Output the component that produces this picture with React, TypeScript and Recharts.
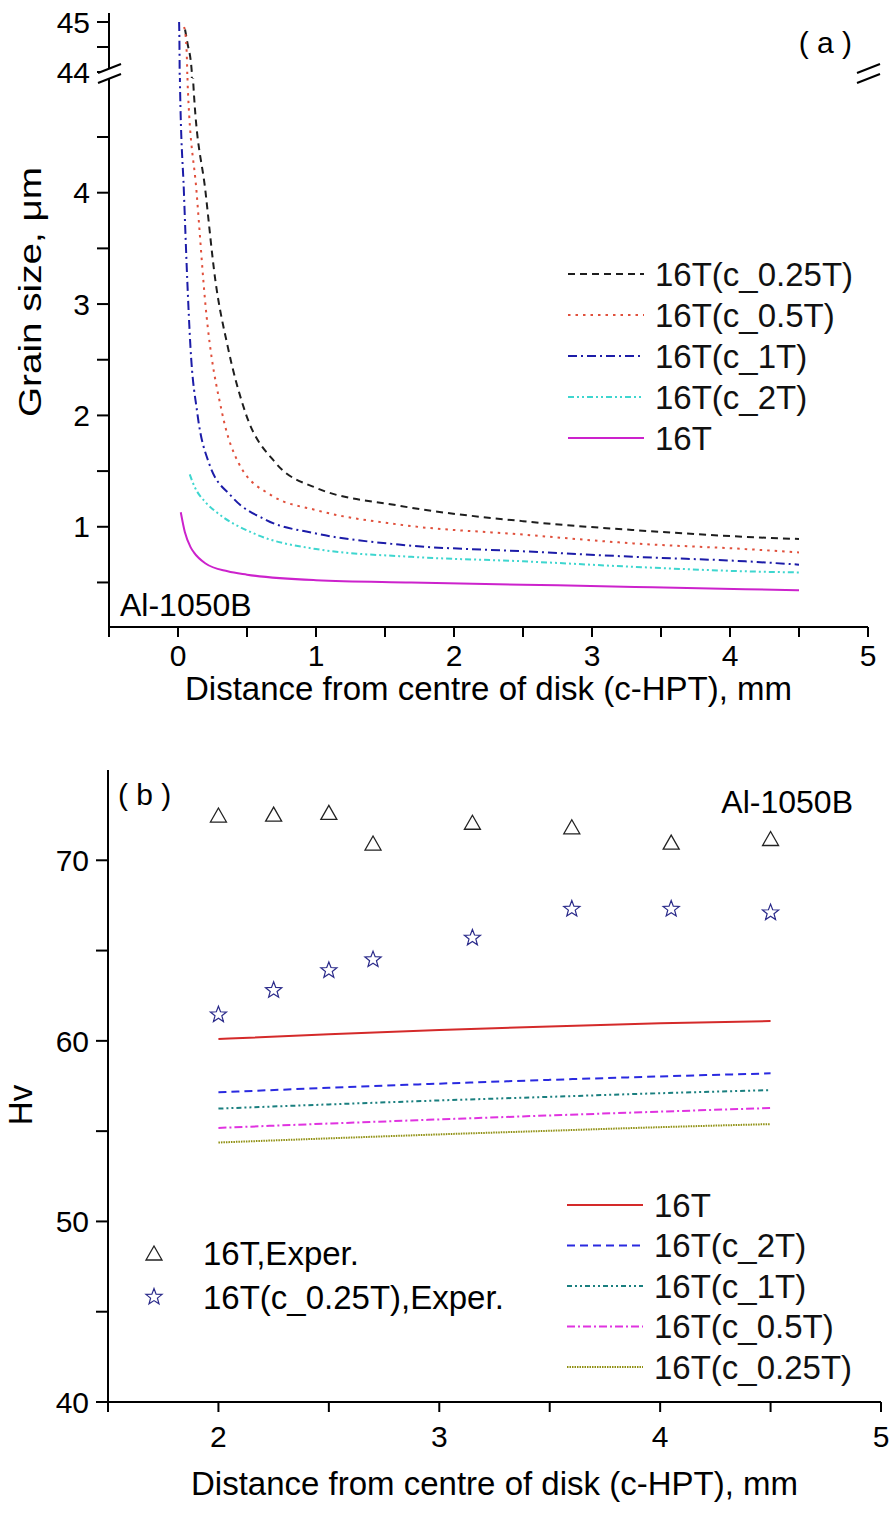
import { LineChart, Line, XAxis, YAxis, ComposedChart, Scatter } from 'recharts'

const FONT = '"Liberation Sans", Arial, sans-serif'

// ---- panel (a): grain size vs distance (mm, µm) ----
const xC025 = [0.051, 0.067, 0.1, 0.11, 0.2, 0.27, 0.36, 0.49, 0.71, 1.0, 1.6, 2.5, 3.31, 4.11, 4.5]
const gC025 = [44.85, 44.6, 44.0, 5.0, 4.0, 3.22, 2.62, 2.02, 1.57, 1.35, 1.19, 1.05, 0.97, 0.91, 0.89]
const xC05 = [0.044, 0.056, 0.067, 0.069, 0.135, 0.2, 0.32, 0.44, 0.68, 1.0, 1.6, 2.5, 3.31, 4.11, 4.5]
const gC05 = [44.9, 44.7, 44.0, 5.0, 4.0, 2.98, 2.02, 1.57, 1.28, 1.15, 1.02, 0.93, 0.85, 0.8, 0.77]
const xC1 = [0.008, 0.012, 0.014, 0.043, 0.067, 0.09, 0.14, 0.225, 0.39, 0.64, 1.0, 1.6, 2.5, 3.31, 4.11, 4.5]
const gC1 = [45.0, 44.0, 5.0, 4.0, 3.22, 2.62, 2.02, 1.57, 1.27, 1.06, 0.94, 0.84, 0.78, 0.73, 0.69, 0.66]
const xC2 = [0.085, 0.12, 0.2, 0.28, 0.55, 1.0, 1.69, 2.5, 3.31, 4.11, 4.5]
const gC2 = [1.47, 1.36, 1.22, 1.13, 0.94, 0.8, 0.73, 0.69, 0.64, 0.6, 0.59]
const x16 = [0.02, 0.05, 0.09, 0.115, 0.2, 0.36, 0.5, 1.0, 1.69, 2.5, 3.31, 4.11, 4.5]
const g16 = [1.13, 0.95, 0.82, 0.77, 0.67, 0.6, 0.57, 0.52, 0.5, 0.48, 0.46, 0.44, 0.43]

const xTicksA = [-0.5, 0, 0.5, 1, 1.5, 2, 2.5, 3, 3.5, 4, 4.5, 5]
const yTicksLow = [0.5, 1, 1.5, 2, 2.5, 3, 3.5, 4, 4.5]
const yTicksHigh = [44, 44.5, 45]

// ---- panel (b): Hv vs distance ----
const xModel = [2, 2.5, 3, 3.5, 4, 4.5]
const hv16 = [60.1, 60.37, 60.6, 60.8, 60.97, 61.1]
const hvC2 = [57.15, 57.4, 57.63, 57.84, 58.03, 58.2]
const hvC1 = [56.25, 56.48, 56.7, 56.9, 57.1, 57.27]
const hvC05 = [55.18, 55.42, 55.65, 55.87, 56.08, 56.28]
const hvC025 = [54.37, 54.6, 54.82, 55.02, 55.22, 55.39]

const xExp = [2, 2.25, 2.5, 2.7, 3.15, 3.6, 4.05, 4.5]
const hvExp16 = [72.45, 72.5, 72.6, 70.9, 72.05, 71.8, 70.95, 71.15]
const hvExpC025 = [61.45, 62.8, 63.9, 64.5, 65.7, 67.3, 67.3, 67.1]

const xTicksB = [1.5, 2, 2.5, 3, 3.5, 4, 4.5, 5]
const yTicksB = [40, 45, 50, 55, 60, 65, 70]

const zip = (xs: number[], ys: number[]) => xs.map((x, i) => ({ x, y: ys[i] }))

const seriesA = [
  { name: '16T(c_0.25T)', data: zip(xC025, gC025), color: '#1e1e1e', dash: '7 5' },
  { name: '16T(c_0.5T)', data: zip(xC05, gC05), color: '#e0503c', dash: '2.5 5' },
  { name: '16T(c_1T)', data: zip(xC1, gC1), color: '#1c1ca8', dash: '9 4 2 4' },
  { name: '16T(c_2T)', data: zip(xC2, gC2), color: '#3ed6cf', dash: '6 3 2 3 2 3' },
  { name: '16T', data: zip(x16, g16), color: '#cc22cc', dash: undefined },
]

const seriesB = [
  { name: '16T', data: zip(xModel, hv16), color: '#d42a2a', dash: undefined },
  { name: '16T(c_2T)', data: zip(xModel, hvC2), color: '#2a2ae0', dash: '8 5' },
  { name: '16T(c_1T)', data: zip(xModel, hvC1), color: '#1a7f7f', dash: '5 3 2 3 2 3' },
  { name: '16T(c_0.5T)', data: zip(xModel, hvC05), color: '#e033e0', dash: '8 3 2 3' },
  { name: '16T(c_0.25T)', data: zip(xModel, hvC025), color: '#8f8f10', dash: '1.5 1' },
]

const exp16 = zip(xExp, hvExp16)
const expC025 = zip(xExp, hvExpC025)

const intOnly = (v: number) => (Number.isInteger(v) ? String(v) : '')
const axisLine = { stroke: '#000', strokeWidth: 2 }
const tickStyle = { fill: '#000', fontSize: 30, fontFamily: FONT }

function Triangle({ cx, cy }: { cx?: number; cy?: number }) {
  if (cx == null || cy == null) return null
  return <path d={`M${cx},${cy - 8} L${cx + 8},${cy + 6} L${cx - 8},${cy + 6} Z`} fill="none" stroke="#222" strokeWidth={1.3} />
}

function Star({ cx, cy }: { cx?: number; cy?: number }) {
  if (cx == null || cy == null) return null
  const pts: string[] = []
  for (let i = 0; i < 10; i++) {
    const r = i % 2 === 0 ? 8.5 : 3.6
    const a = -Math.PI / 2 + (i * Math.PI) / 5
    pts.push(`${cx + r * Math.cos(a)},${cy + r * Math.sin(a)}`)
  }
  return <polygon points={pts.join(' ')} fill="none" stroke="#2a2a8a" strokeWidth={1.2} />
}

function BreakMark({ x, y }: { x: number; y: number }) {
  return (
    <g>
      <polygon points={`${x - 11},${y - 5} ${x + 12},${y - 14} ${x + 12},${y - 4} ${x - 11},${y + 5}`} fill="#fff" />
      <line x1={x - 11} y1={y - 5} x2={x + 12} y2={y - 14} stroke="#000" strokeWidth={2} />
      <line x1={x - 11} y1={y + 5} x2={x + 12} y2={y - 4} stroke="#000" strokeWidth={2} />
    </g>
  )
}

function LegendRows({ items, x, y, step }: { items: { name: string; color: string; dash?: string }[]; x: number; y: number; step: number }) {
  return (
    <g>
      {items.map((s, i) => (
        <g key={s.name}>
          <line x1={x} x2={x + 76} y1={y + i * step} y2={y + i * step} stroke={s.color} strokeWidth={2} strokeDasharray={s.dash} />
          <text x={x + 87} y={y + i * step} dy="0.35em" fontSize={33} fontFamily={FONT} fill="#111">{s.name}</text>
        </g>
      ))}
    </g>
  )
}

const xTitle = 'Distance from centre of disk (c-HPT), mm'

export default function App() {
  return (
    <div style={{ position: 'absolute', left: 0, top: 0, width: 894, height: 1515, background: '#fff' }}>
      {/* panel (a), upper part of the broken axis (extra bottom margin so the "44" label is not clipped) */}
      <div style={{ position: 'absolute', left: 0, top: 0 }}>
        <LineChart width={894} height={100} margin={{ top: 13, right: 26, bottom: 22, left: 0 }}>
          <XAxis xAxisId="b" type="number" dataKey="x" domain={[-0.5, 5]} hide allowDataOverflow />
          <XAxis xAxisId="t" orientation="top" type="number" dataKey="x" domain={[-0.5, 5]} height={0} tick={false} tickLine={false} axisLine={axisLine} />
          <YAxis type="number" dataKey="y" domain={[43.88, 45.18]} ticks={yTicksHigh} interval={0} tickFormatter={intOnly} allowDataOverflow width={109} tickSize={12} tickMargin={7} tick={tickStyle} tickLine={axisLine} axisLine={axisLine} />
          <YAxis yAxisId="r" orientation="right" type="number" domain={[43.88, 45.18]} width={0} tick={false} tickLine={false} axisLine={axisLine} />
          {seriesA.map(s => (
            <Line key={s.name} xAxisId="b" data={s.data} dataKey="y" type="monotone" stroke={s.color} strokeWidth={2} strokeDasharray={s.dash} dot={false} isAnimationActive={false} />
          ))}
        </LineChart>
      </div>

      {/* panel (a), lower part */}
      <div style={{ position: 'absolute', left: 0, top: 0 }}>
        <LineChart width={894} height={720} margin={{ top: 78, right: 26, bottom: 0, left: 0 }}>
          <XAxis type="number" dataKey="x" domain={[-0.5, 5]} ticks={xTicksA} interval={0} tickFormatter={intOnly} allowDataOverflow height={93} tickSize={10} tickMargin={8} tick={tickStyle} tickLine={axisLine} axisLine={axisLine}
            label={{ value: xTitle, position: 'insideBottom', offset: 20, fontSize: 33, fontFamily: FONT, fill: '#000' }} />
          <YAxis type="number" dataKey="y" domain={[0.1, 5.03]} ticks={yTicksLow} interval={0} tickFormatter={intOnly} allowDataOverflow width={109} tickSize={12} tickMargin={7} tick={tickStyle} tickLine={axisLine} axisLine={axisLine} />
          <YAxis yAxisId="r" orientation="right" type="number" domain={[0.1, 5.03]} width={0} tick={false} tickLine={false} axisLine={axisLine} />
          {seriesA.map(s => (
            <Line key={s.name} data={s.data} dataKey="y" type="monotone" stroke={s.color} strokeWidth={2} strokeDasharray={s.dash} dot={false} isAnimationActive={false} />
          ))}
        </LineChart>
      </div>

      {/* panel (b) */}
      <div style={{ position: 'absolute', left: 0, top: 740 }}>
        <ComposedChart width={894} height={775} margin={{ top: 30, right: 13, bottom: 0, left: 0 }}>
          <XAxis type="number" dataKey="x" domain={[1.5, 5]} ticks={xTicksB} interval={0} tickFormatter={v => (v === 1.5 ? '' : intOnly(v))} allowDataOverflow height={113} tickSize={10} tickMargin={14} tick={tickStyle} tickLine={axisLine} axisLine={axisLine}
            label={{ value: xTitle, position: 'insideBottom', offset: 20, fontSize: 33, fontFamily: FONT, fill: '#000' }} />
          <XAxis xAxisId="t" orientation="top" type="number" dataKey="x" domain={[1.5, 5]} height={0} tick={false} tickLine={false} axisLine={axisLine} />
          <YAxis type="number" dataKey="y" domain={[40, 75]} ticks={yTicksB} interval={0} tickFormatter={v => (v % 10 === 0 ? String(v) : '')} allowDataOverflow width={108} tickSize={12} tickMargin={7} tick={tickStyle} tickLine={axisLine} axisLine={axisLine} />
          <YAxis yAxisId="r" orientation="right" type="number" domain={[40, 75]} width={0} tick={false} tickLine={false} axisLine={axisLine} />
          {seriesB.map(s => (
            <Line key={s.name} data={s.data} dataKey="y" type="monotone" stroke={s.color} strokeWidth={2} strokeDasharray={s.dash} dot={false} isAnimationActive={false} />
          ))}
          <Scatter data={exp16} dataKey="y" shape={<Triangle />} isAnimationActive={false} />
          <Scatter data={expC025} dataKey="y" shape={<Star />} isAnimationActive={false} />
        </ComposedChart>
      </div>

      {/* annotations, legends, axis breaks */}
      <svg width={894} height={1515} style={{ position: 'absolute', left: 0, top: 0, pointerEvents: 'none' }}>
        <BreakMark x={109} y={78} />
        <BreakMark x={868} y={78} />
        <text x={30} y={292} transform="rotate(-90 30 292)" textAnchor="middle" dy="0.35em" fontSize={32} fontFamily={FONT} textLength={250} lengthAdjust="spacingAndGlyphs">Grain size, μm</text>
        <text x={852} y={42} textAnchor="end" dy="0.35em" fontSize={30} fontFamily={FONT}>( a )</text>
        <text x={120} y={605} dy="0.35em" fontSize={32} fontFamily={FONT}>Al-1050B</text>
        <LegendRows items={seriesA} x={568} y={274} step={41} />

        <text x={20} y={1105} transform="rotate(-90 20 1105)" textAnchor="middle" dy="0.35em" fontSize={33} fontFamily={FONT}>Hv</text>
        <text x={118} y={794} dy="0.35em" fontSize={30} fontFamily={FONT}>( b )</text>
        <text x={853} y={802} textAnchor="end" dy="0.35em" fontSize={32} fontFamily={FONT}>Al-1050B</text>
        <LegendRows items={seriesB} x={567} y={1205} step={40.5} />
        <Triangle cx={154} cy={1254} />
        <text x={203} y={1253} dy="0.35em" fontSize={33} fontFamily={FONT}>16T,Exper.</text>
        <Star cx={154} cy={1297} />
        <text x={203} y={1297} dy="0.35em" fontSize={33} fontFamily={FONT}>16T(c_0.25T),Exper.</text>
      </svg>
    </div>
  )
}
